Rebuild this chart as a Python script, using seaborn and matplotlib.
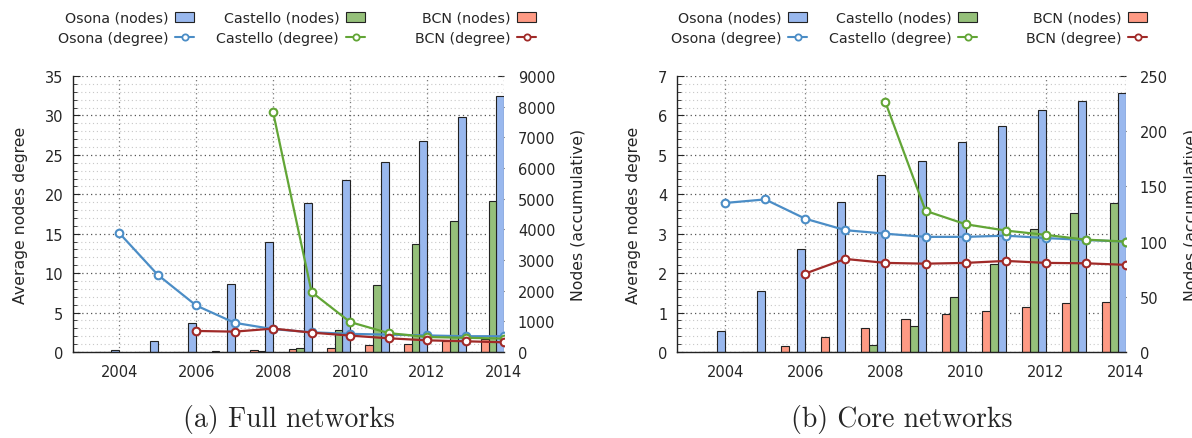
import numpy as np
import pandas as pd
import seaborn as sns
import matplotlib.pyplot as plt
from matplotlib.patches import Patch
from matplotlib.lines import Line2D
from matplotlib.ticker import MultipleLocator

years = list(range(2004, 2015))

# (a) full networks: accumulated nodes (right axis) and average degree (left axis)
full_osona_nodes = [75, 350, 960, 2230, 3600, 4860, 5620, 6210, 6870, 7670, 8350]
full_castello_nodes = [0, 0, 0, 0, 20, 130, 730, 2170, 3510, 4260, 4910]
full_bcn_nodes = [0, 0, 10, 30, 65, 110, 140, 230, 250, 350, 410]
full_osona_deg = [15.1, 9.8, 5.9, 3.7, 2.9, 2.5, 2.3, 2.2, 2.1, 2.0, 2.0]
full_castello_deg = [None, None, None, None, 30.4, 7.6, 3.8, 2.4, 1.9, 1.8, 1.7]
full_bcn_deg = [None, None, 2.67, 2.58, 2.97, 2.46, 2.08, 1.74, 1.48, 1.36, 1.23]

# (b) core networks
core_osona_nodes = [19, 55, 93, 136, 160, 173, 190, 205, 219, 227, 235]
core_castello_nodes = [0, 0, 0, 0, 6, 24, 50, 80, 111, 126, 135]
core_bcn_nodes = [0, 0, 5, 14, 22, 30, 34, 37, 41, 44, 45]
core_osona_deg = [3.78, 3.87, 3.38, 3.09, 3.0, 2.92, 2.92, 2.95, 2.89, 2.84, 2.80]
core_castello_deg = [None, None, None, None, 6.33, 3.58, 3.24, 3.08, 2.97, 2.85, 2.80]
core_bcn_deg = [None, None, 1.99, 2.36, 2.26, 2.24, 2.26, 2.31, 2.26, 2.25, 2.21]

names = ["Osona", "Castello", "BCN"]
bar_colors = {"Osona": "#99b8ee", "Castello": "#95c07a", "BCN": "#fe9a84"}
line_colors = {"Osona": "#4b8dc6", "Castello": "#62a536", "BCN": "#a02a28"}

sns.set_style("white")
plt.rcParams["font.family"] = ["DejaVu Sans"]
plt.rcParams["font.size"] = 10.5

W, H = 1192, 439
fig = plt.figure(figsize=(W / 100, H / 100), dpi=100)


def draw_panel(left_px, width_px, nodes, degs, deg_max, deg_minor, nodes_max, nodes_step,
               caption, legend_x_px):
    ax = fig.add_axes([left_px / W, 86 / H, width_px / W, 276 / H])
    scale = deg_max / nodes_max
    # bars: Osona ends on the year, Castello and BCN to its left
    for i, name in enumerate(names):
        x = np.array(years) - 0.2 * i
        h = np.array(nodes[name], dtype=float) * scale
        ax.bar(x, h, width=-0.2, align="edge", color=bar_colors[name],
               edgecolor="#222222", linewidth=0.8, zorder=2)
    for name in names:
        df = pd.DataFrame({"year": years, "deg": degs[name]}).dropna()
        sns.lineplot(data=df, x="year", y="deg", ax=ax, color=line_colors[name],
                     lw=1.6, marker="o", markersize=5.5, markerfacecolor="white",
                     markeredgecolor=line_colors[name], markeredgewidth=1.5, zorder=4)
    ax.set_xlim(2002.8, 2014)
    ax.set_ylim(0, deg_max)
    ax.set_xticks(range(2004, 2015, 2))
    ax.yaxis.set_major_locator(MultipleLocator(deg_max / 7))
    ax.yaxis.set_minor_locator(MultipleLocator(deg_minor))
    ax.set_axisbelow(True)
    ax.grid(axis="x", which="major", linestyle=(0, (1, 2.5)), color="#777777", lw=0.9)
    ax.grid(axis="y", which="major", linestyle=(0, (1, 2.5)), color="#555555", lw=0.9)
    ax.grid(axis="y", which="minor", linestyle=(0, (1, 2.5)), color="#c8c8c8", lw=0.8)
    ax.tick_params(axis="y", which="major", direction="in", length=5, pad=7, left=True)
    ax.tick_params(axis="y", which="minor", direction="in", length=3, left=True)
    ax.tick_params(axis="x", direction="in", length=0, pad=9)
    ax.set_xlabel("")
    ax.set_ylabel("Average nodes degree", fontsize=11.3, labelpad=12)
    for side in ["top", "right"]:
        ax.spines[side].set_visible(False)
    for side in ["left", "bottom"]:
        ax.spines[side].set_color("#222222")
        ax.spines[side].set_linewidth(1.0)

    sec = ax.secondary_yaxis("right", functions=(lambda d: d / scale, lambda n: n * scale))
    sec.set_yticks(np.arange(0, nodes_max + 1, nodes_step))
    sec.tick_params(direction="in", length=4, pad=10)
    sec.spines["right"].set_visible(False)
    sec.set_ylabel("Nodes (accumulative)", fontsize=11.3, labelpad=11)

    # one legend column per network, text to the left of its key
    for name, lx in zip(names, legend_x_px):
        handles = [
            Patch(facecolor=bar_colors[name], edgecolor="#222222", linewidth=0.8),
            Line2D([], [], color=line_colors[name], lw=1.5, marker="o", markersize=4.5,
                   markerfacecolor="white", markeredgecolor=line_colors[name],
                   markeredgewidth=1.3),
        ]
        labels = [f"{name} (nodes)", f"{name} (degree)"]
        fig.legend(handles, labels, markerfirst=False, frameon=False,
                   loc="center right", bbox_to_anchor=(lx / W, 1 - 29 / H),
                   bbox_transform=fig.transFigure, borderpad=0, borderaxespad=0,
                   fontsize=10.3, handlelength=1.3, handleheight=0.7,
                   handletextpad=0.5, labelspacing=0.45)

    fig.text((left_px + width_px / 2) / W, 1 - 420 / H, caption, ha="center", va="center",
             fontsize=20, family="cmr10")


draw_panel(73, 431,
           {"Osona": full_osona_nodes, "Castello": full_castello_nodes, "BCN": full_bcn_nodes},
           {"Osona": full_osona_deg, "Castello": full_castello_deg, "BCN": full_bcn_deg},
           35, 1, 9000, 1000, "(a) Full networks", [194, 365, 536])

draw_panel(677, 449,
           {"Osona": core_osona_nodes, "Castello": core_castello_nodes, "BCN": core_bcn_nodes},
           {"Osona": core_osona_deg, "Castello": core_castello_deg, "BCN": core_bcn_deg},
           7, 0.2, 250, 50, "(b) Core networks", [807, 977, 1147])

fig.savefig("out.png", dpi=100)
